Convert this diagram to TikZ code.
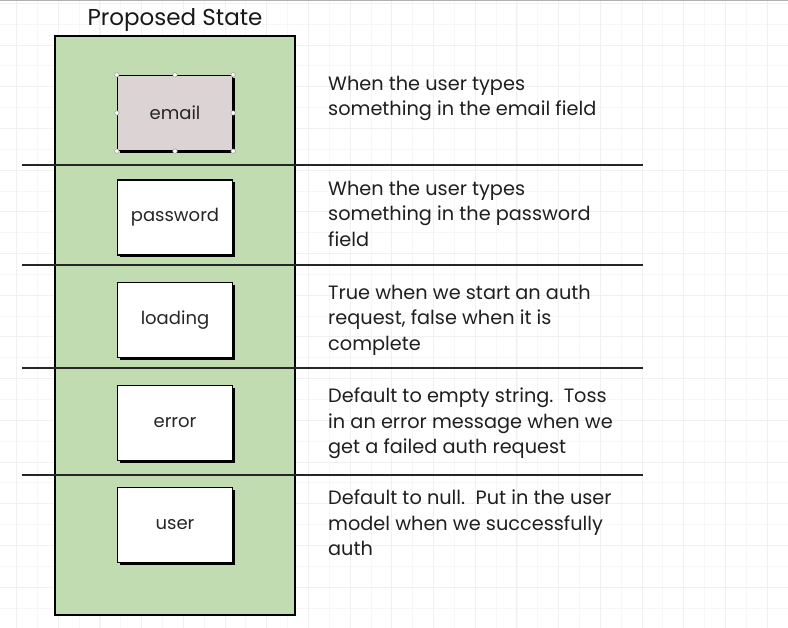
\documentclass[tikz,border=0pt]{standalone}
\usepackage{fontspec}
\setmainfont{Poppins}
\begin{document}
\begin{tikzpicture}[x=1pt,y=-1pt,
  gridminor/.style={draw=black!3, line width=0.8pt},
  gridmajor/.style={draw=black!6, line width=0.9pt},
  sep/.style={draw=black!85, line width=1.8pt},
  field/.style={draw=black, line width=1.3pt, fill=white, minimum width=115pt, minimum height=75pt, inner sep=0pt, font=\fontsize{18}{20}\selectfont, text=black!85},
  shadowbox/.style={fill=black, minimum width=115pt, minimum height=75pt, inner sep=0pt},
  desc/.style={anchor=north west, align=left, inner sep=0pt, font=\fontsize{19.3}{25.3}\selectfont, text=black!88},
  handle/.style={circle, draw=black!40, fill=white, line width=0.5pt, minimum size=4.5pt, inner sep=0pt}
]
\useasboundingbox (0,0) rectangle (788,628);
\fill[white] (0,0) rectangle (788,628);
% grid
\foreach \i in {0,...,38} {
  \draw[gridminor] ({16.5+20.85*\i},0) -- ({16.5+20.85*\i},628);
}
\foreach \i in {0,...,31} {
  \draw[gridminor] (0,{3.3+20.85*\i}) -- (788,{3.3+20.85*\i});
}
\foreach \i in {0,...,19} {
  \draw[gridmajor] ({16.5+41.7*\i},0) -- ({16.5+41.7*\i},628);
}
\foreach \i in {0,...,15} {
  \draw[gridmajor] (0,{3.3+41.7*\i}) -- (788,{3.3+41.7*\i});
}
\draw[black!30, line width=1.5pt] (0,0.7) -- (788,0.7);

% title
\node[font=\fontsize{23}{26}\selectfont, text=black!90] (title) at (175,20) {Proposed State};

% green container
\node[draw=black, line width=1.8pt, fill={rgb,255:red,194;green,220;blue,178}, minimum width=240pt, minimum height=579pt, inner sep=0pt] (state) at (175,325.5) {};

% separators
\coordinate (s1l) at (22,165); \coordinate (s1r) at (643,165);
\coordinate (s2l) at (22,265); \coordinate (s2r) at (643,265);
\coordinate (s3l) at (22,368); \coordinate (s3r) at (643,368);
\coordinate (s4l) at (22,475); \coordinate (s4r) at (643,475);
\draw[sep] (s1l) -- (s1r);
\draw[sep] (s2l) -- (s2r);
\draw[sep] (s3l) -- (s3r);
\draw[sep] (s4l) -- (s4r);

% field boxes with sketchy shadow
\foreach \n/\y in {emailsh/113, passwordsh/217.5, loadingsh/320, errorsh/423, usersh/525} {
  \node[shadowbox] (\n) at (177.5,\y+2.5) {};
}
\node[field, fill={rgb,255:red,220;green,212;blue,212}] (email) at (175,113) {email};
\node[field] (password) at (175,217.5) {password};
\node[field] (loading) at (175,320) {loading};
\node[field] (error) at (175,423) {error};
\node[field] (user) at (175,525) {user};

% selection handles
\foreach \p [count=\k] in {north west, north, north east, east, south east, south, south west, west} {
  \node[handle] (h\k) at (email.\p) {};
}

% descriptions
\node[desc] (d1) at (328,76) {When the user types\\something in the email field};
\node[desc] (d2) at (328,181) {When the user types\\something in the password\\field};
\node[desc] (d3) at (328,285) {True when we start an auth\\request, false when it is\\complete};
\node[desc] (d4) at (328,388) {Default to empty string.\ \ Toss\\in an error message when we\\get a failed auth request};
\node[desc] (d5) at (328,490) {Default to null.\ \ Put in the user\\model when we successfully\\auth};
\end{tikzpicture}
\end{document}
